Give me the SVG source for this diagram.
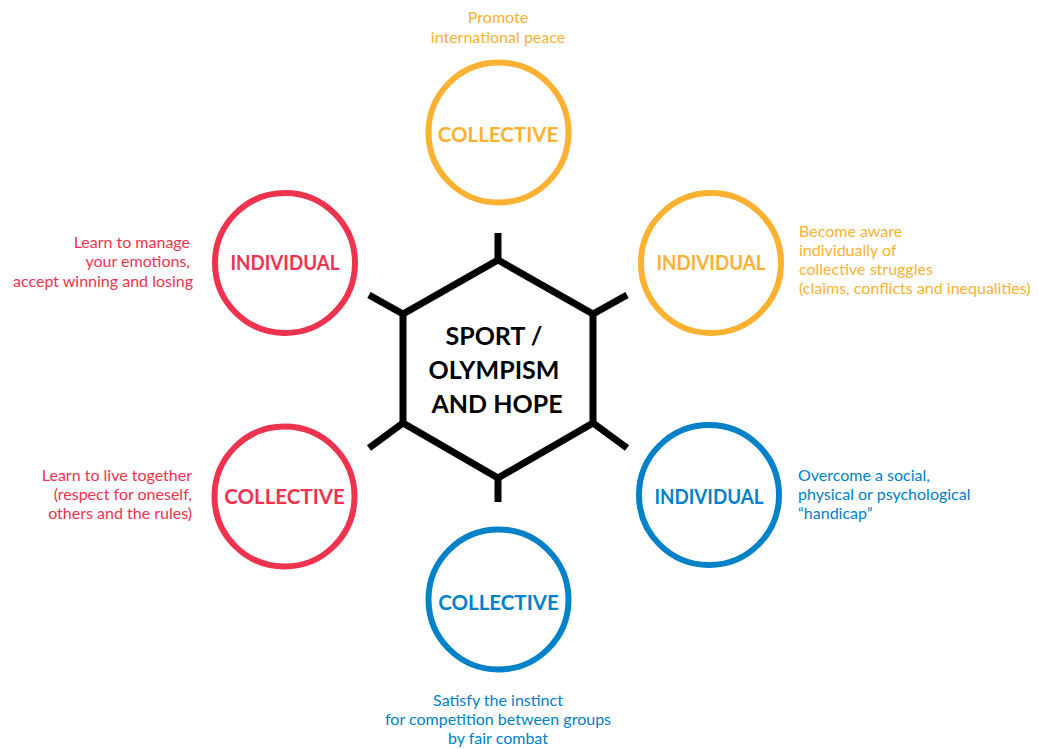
<svg xmlns="http://www.w3.org/2000/svg" width="1038" height="749" viewBox="0 0 1038 749">
<style>
.ring{fill:#fff;stroke-width:6}
.lbl{font-family:Lato,"Noto Sans",sans-serif;font-weight:700;font-size:20.5px;text-anchor:middle}
.desc{font-family:Lato,"Noto Sans",sans-serif;font-size:16px}
.y{fill:#FCB131}.ys{stroke:#FCB131}
.r{fill:#EE334E}.rs{stroke:#EE334E}
.b{fill:#0081C8}.bs{stroke:#0081C8}
.spoke{stroke:#000;stroke-width:7;fill:none}
</style>
<rect width="1038" height="749" fill="#fff"/>
<g id="connectors">
<line class="spoke" x1="498" y1="260" x2="498" y2="233"/>
<line class="spoke" x1="593" y1="314" x2="627" y2="295"/>
<line class="spoke" x1="593" y1="423" x2="627" y2="448"/>
<line class="spoke" x1="498" y1="478" x2="498" y2="502"/>
<line class="spoke" x1="403" y1="423" x2="369" y2="448"/>
<line class="spoke" x1="403" y1="314" x2="369" y2="295"/>
</g>
<g id="center">
<polygon points="498,260 593,314 593,423 498,478 403,423 403,314" fill="#fff" stroke="#000" stroke-width="7" stroke-linejoin="miter"/>
<text font-family="Lato,'Noto Sans',sans-serif" font-weight="700" font-size="25" text-anchor="middle" fill="#000">
<tspan x="497" y="345">SPORT /</tspan>
<tspan x="497" y="379">OLYMPISM</tspan>
<tspan x="497" y="413">AND HOPE</tspan>
</text>
</g>
<g id="top-collective">
<circle class="ring ys" cx="498.5" cy="132.5" r="70"/>
<text class="lbl y" x="498" y="142">COLLECTIVE</text>
<text class="desc y" text-anchor="middle"><tspan x="498" y="23">Promote</tspan><tspan x="498" y="43">international peace</tspan></text>
</g>
<g id="upper-right-individual">
<circle class="ring ys" cx="711" cy="263" r="70"/>
<text class="lbl y" x="711" y="270" textLength="109" lengthAdjust="spacingAndGlyphs">INDIVIDUAL</text>
<text class="desc y"><tspan x="799" y="237">Become aware</tspan><tspan x="799" y="256">individually of</tspan><tspan x="799" y="275">collective struggles</tspan><tspan x="799" y="294">(claims, conflicts and inequalities)</tspan></text>
</g>
<g id="upper-left-individual">
<circle class="ring rs" cx="285" cy="263" r="70"/>
<text class="lbl r" x="285" y="270" textLength="109" lengthAdjust="spacingAndGlyphs">INDIVIDUAL</text>
<text class="desc r" text-anchor="end"><tspan x="190" y="248">Learn to manage</tspan><tspan x="190" y="267">your emotions,</tspan><tspan x="193" y="287">accept winning and losing</tspan></text>
</g>
<g id="lower-left-collective">
<circle class="ring rs" cx="284.5" cy="496.5" r="70"/>
<text class="lbl r" x="284.5" y="504">COLLECTIVE</text>
<text class="desc r" text-anchor="end"><tspan x="192" y="481">Learn to live together</tspan><tspan x="192" y="500">(respect for oneself,</tspan><tspan x="192" y="519">others and the rules)</tspan></text>
</g>
<g id="lower-right-individual">
<circle class="ring bs" cx="709" cy="495" r="70"/>
<text class="lbl b" x="709" y="504" textLength="109" lengthAdjust="spacingAndGlyphs">INDIVIDUAL</text>
<text class="desc b"><tspan x="798" y="481">Overcome a social,</tspan><tspan x="798" y="500">physical or psychological</tspan><tspan x="798" y="519">“handicap”</tspan></text>
</g>
<g id="bottom-collective">
<circle class="ring bs" cx="498.5" cy="599.5" r="70"/>
<text class="lbl b" x="498.5" y="610">COLLECTIVE</text>
<text class="desc b" text-anchor="middle"><tspan x="498" y="706">Satisfy the instinct</tspan><tspan x="498" y="725">for competition between groups</tspan><tspan x="498" y="744">by fair combat</tspan></text>
</g>
</svg>
